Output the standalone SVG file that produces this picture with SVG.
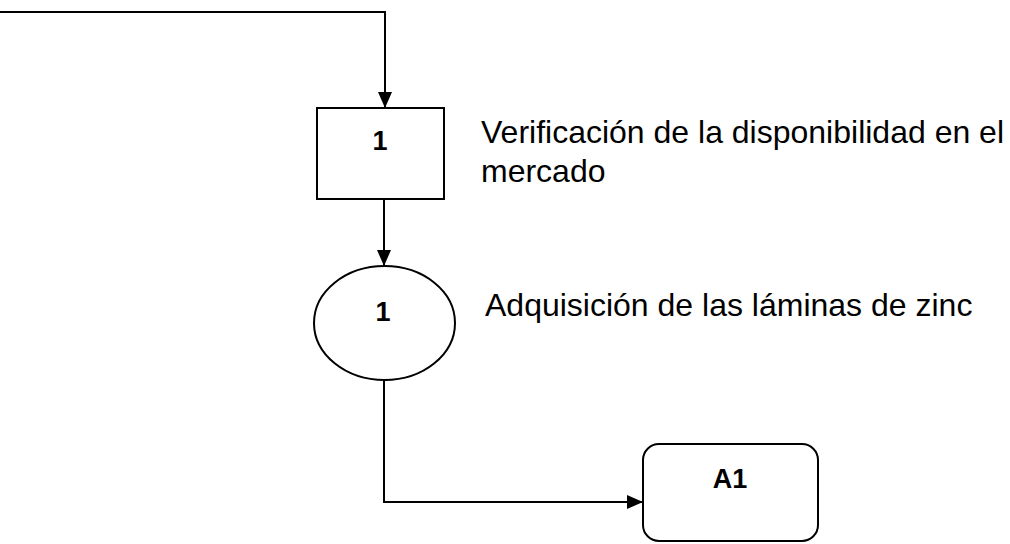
<svg xmlns="http://www.w3.org/2000/svg" width="1010" height="544" viewBox="0 0 1010 544">
  <style>
    .shape { fill: #ffffff; stroke: #000000; stroke-width: 2; }
    .flow { fill: none; stroke: #000000; stroke-width: 2; }
    .label { font-family: "Liberation Sans", Arial, sans-serif; font-size: 27px; font-weight: bold; fill: #000000; text-anchor: middle; }
    .note { font-family: "Liberation Sans", Arial, sans-serif; font-size: 32px; fill: #000000; }
  </style>
  <defs>
    <marker id="arrow" viewBox="0 0 16 14" refX="16" refY="7" markerWidth="16" markerHeight="14" markerUnits="userSpaceOnUse" orient="auto">
      <path d="M0,0 L16,7 L0,14 Z" fill="#000000"/>
    </marker>
  </defs>
  <rect width="1010" height="544" fill="#ffffff"/>

  <g id="connectors">
    <path class="flow" d="M0,12 H385 V108" marker-end="url(#arrow)"/>
    <path class="flow" d="M384,199 V266" marker-end="url(#arrow)"/>
    <path class="flow" d="M384,380 V502 H643" marker-end="url(#arrow)"/>
  </g>

  <g id="step-1-inspection">
    <rect class="shape" x="317" y="108" width="127" height="91"/>
    <text class="label" x="380" y="150">1</text>
    <text class="note" x="481" y="143">Verificación de la disponibilidad en el</text>
    <text class="note" x="481" y="182">mercado</text>
  </g>

  <g id="step-1-operation">
    <ellipse class="shape" cx="384.5" cy="323" rx="70.5" ry="57"/>
    <text class="label" x="383" y="321">1</text>
    <text class="note" x="485" y="316">Adquisición de las láminas de zinc</text>
  </g>

  <g id="connector-a1">
    <rect class="shape" x="643" y="444" width="175" height="97" rx="16" ry="16"/>
    <text class="label" x="730" y="488">A1</text>
  </g>
</svg>
